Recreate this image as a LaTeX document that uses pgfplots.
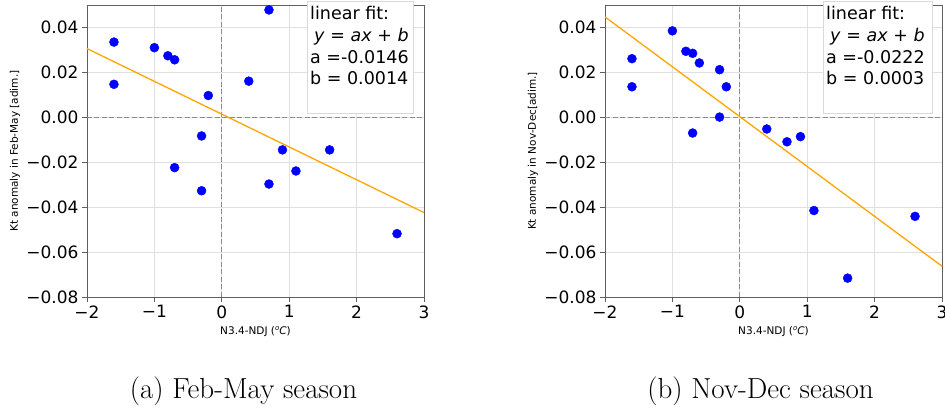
\documentclass[border=0pt]{standalone}
\usepackage{pgfplots}
\pgfplotsset{compat=1.18}
\usepackage{fontspec}
\newfontfamily\dejavu{DejaVu Sans}

\definecolor{fitorange}{RGB}{255,165,0}
\definecolor{ptblue}{RGB}{0,0,255}
\definecolor{gridgray}{RGB}{224,224,224}
\definecolor{framegray}{RGB}{95,95,95}

\pgfplotstableread{
x y
-1.6 0.0335
-1.6 0.0147
-1.0 0.0310
-0.8 0.0274
-0.7 0.0256
-0.2 0.0097
-0.3 -0.0083
-0.7 -0.0224
-0.3 -0.0327
0.4 0.0161
0.7 0.0478
0.9 -0.0145
1.1 -0.0239
0.7 -0.0297
1.6 -0.0145
2.6 -0.0518
}\febmay

\pgfplotstableread{
x y
-1.6 0.0261
-1.6 0.0136
-1.0 0.0385
-0.8 0.0294
-0.7 0.0285
-0.6 0.0242
-0.3 0.0212
-0.2 0.0136
-0.3 0.0001
-0.7 -0.0070
0.4 -0.0052
0.7 -0.0109
0.9 -0.0086
1.1 -0.0415
1.6 -0.0716
2.6 -0.0441
}\novdec

\pgfplotsset{
  kt/.style={
    scale only axis,
    width=337pt, height=292pt,
    xmin=-2, xmax=3, ymin=-0.08, ymax=0.05,
    xtick={-2,-1,0,1,2,3},
    xticklabels={−2,−1,0,1,2,3},
    ytick={-0.08,-0.06,-0.04,-0.02,0,0.02,0.04},
    yticklabels={−0.08,−0.06,−0.04,−0.02,0.00,0.02,0.04},
    ticklabel style={font=\dejavu\fontsize{17}{20}\selectfont},
    tick align=outside, major tick length=5pt,
    every tick/.style={framegray, line width=0.8pt},
    axis line style={framegray, line width=0.9pt},
    grid=major,
    major grid style={gridgray, line width=0.9pt},
    xtick pos=bottom, ytick pos=left,
    every axis x label/.style={at={(axis description cs:0.5,0)}, anchor=base, yshift=-38pt},
    every axis y label/.style={at={(axis description cs:-0.214,0.5)}, rotate=90, anchor=center},
    label style={font=\dejavu\fontsize{10.5}{12}\selectfont},
    xlabel={N3.4-NDJ (\raisebox{0.45em}{\fontsize{7}{8}\selectfont\textit{o}}\textit{C})},
  },
  zeroline/.style={black!45, line width=0.8pt, dash pattern=on 5pt off 2.5pt},
  pts/.style={only marks, mark=*, mark size=4.5pt, ptblue, mark options={draw=ptblue, fill=ptblue}},
  fit/.style={fitorange, line width=1.3pt, no marks},
}

\begin{document}
\begin{tikzpicture}

% (a) Feb-May
\begin{axis}[kt, at={(0pt,0pt)}, anchor=south west,
  ylabel={Kt anomaly in Feb-May [adim.]}]
\addplot[zeroline] coordinates {(0,-0.08) (0,0.05)};
\addplot[zeroline] coordinates {(-2,0) (3,0)};
\addplot[fit] coordinates {(-2,0.0306) (3,-0.0424)};
\addplot[pts] table[x=x, y=y] {\febmay};
\end{axis}

% (b) Nov-Dec
\begin{axis}[kt, at={(518pt,0pt)}, anchor=south west,
  ylabel={Kt anomaly in Nov-Dec[adim.]}]
\addplot[zeroline] coordinates {(0,-0.08) (0,0.05)};
\addplot[zeroline] coordinates {(-2,0) (3,0)};
\addplot[fit] coordinates {(-2,0.0447) (3,-0.0663)};
\addplot[pts] table[x=x, y=y] {\novdec};
\end{axis}

% fit text boxes
\begin{scope}[every node/.style={font=\dejavu\fontsize{17.5}{20}\selectfont, anchor=base west, inner sep=0pt}]
\draw[black!15, fill=white, line width=0.8pt] (220pt,184pt) rectangle (326pt,296pt);
\node at (223pt,277.7pt) {linear fit:};
\node at (227pt,255.3pt) {\textit{y} = \textit{ax} + \textit{b}};
\node at (223pt,233.7pt) {a =-0.0146};
\node at (223pt,212.7pt) {b = 0.0014};

\draw[black!15, fill=white, line width=0.8pt] (736pt,184pt) rectangle (845pt,296pt);
\node at (739pt,277.7pt) {linear fit:};
\node at (743pt,255.3pt) {\textit{y} = \textit{ax} + \textit{b}};
\node at (739pt,233.7pt) {a =-0.0222};
\node at (739pt,212.7pt) {b = 0.0003};
\end{scope}

% captions
\node[anchor=base, font=\fontsize{29}{34}\selectfont] at (156.5pt,-102pt) {(a) Feb-May season};
\node[anchor=base, font=\fontsize{29}{34}\selectfont] at (673.5pt,-102pt) {(b) Nov-Dec season};

\pgfresetboundingbox
\path[use as bounding box] (-87pt,-112pt) rectangle (858pt,297pt);
\end{tikzpicture}
\end{document}
